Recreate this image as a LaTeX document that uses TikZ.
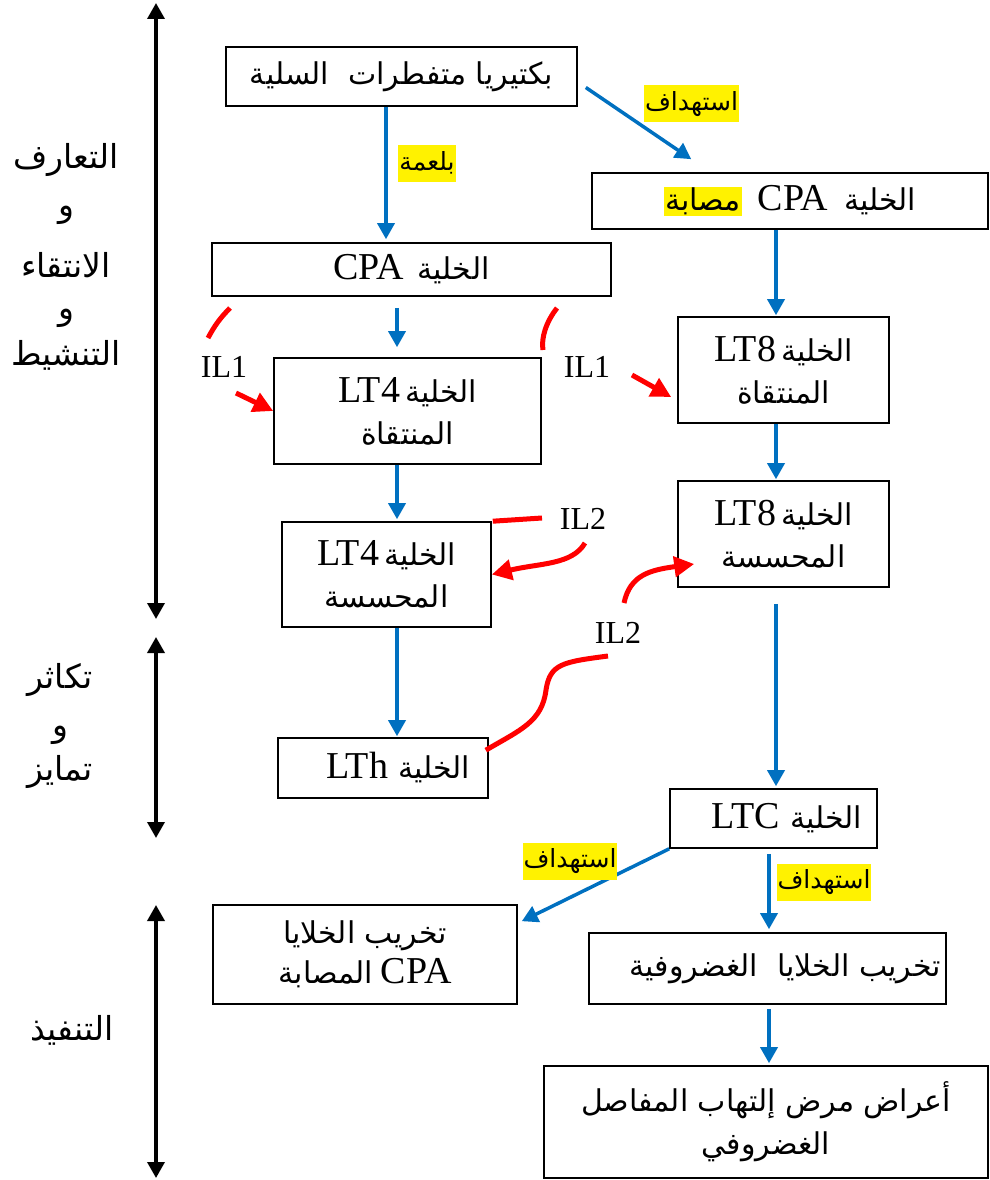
\documentclass[tikz,border=0pt]{standalone}
\usepackage{fontspec}
\setmainfont{Liberation Serif}
\newfontfamily\arfont[Script=Arabic]{DejaVu Sans}
\TeXXeTstate=1
\usetikzlibrary{arrows.meta,calc}
\definecolor{wblue}{RGB}{0,112,192}
\newcommand\AR[1]{{\arfont\fontsize{30}{42}\selectfont\beginR #1\endR}}
\newcommand\HL[1]{{\setlength{\fboxsep}{1pt}\colorbox{yellow}{\AR{#1}}}}
\begin{document}
\begin{tikzpicture}[x=1pt,y=-1pt,
  box/.style={draw=black, line width=1.6pt, inner sep=0pt, align=center,
    font=\fontsize{38}{42}\selectfont},
  barrow/.style={wblue, line width=3.5pt, -{Triangle[length=16pt,width=17pt]}},
  darrow/.style={black, line width=3.5pt, {Triangle[length=16pt,width=17pt]}-{Triangle[length=16pt,width=17pt]}},
  rline/.style={red, line width=5pt},
  rarrow/.style={red, line width=5pt, -{Triangle[length=20pt,width=20pt]}},
  hl/.style={fill=yellow, inner xsep=1pt, inner ysep=0pt, minimum height=37pt, font=\fontsize{25}{30}\selectfont\arfont},
  il/.style={inner sep=0pt, font=\fontsize{32}{34}\selectfont},
  side/.style={inner sep=0pt, font=\fontsize{33}{36}\selectfont\arfont}]
\useasboundingbox (0,0) rectangle (990,1180);
% boxes
\node[box, minimum width=351pt, minimum height=59pt] (bact) at (401.5,76.5)
  {\AR{بكتيريا متفطرات\ \ السلية}};
\node[box, minimum width=396pt, minimum height=56pt] (cpam) at (790,201)
  {\HL{مصابة}\hspace{16pt}CPA\hspace{16pt}\AR{الخلية}};
\node[box, minimum width=399pt, minimum height=53pt] (cpa) at (411.5,269.5)
  {CPA\hspace{14pt}\AR{الخلية}};
\node[box, minimum width=267pt, minimum height=106pt] (lt4sel) at (407.5,411)
  {LT4\hspace{5pt}\AR{الخلية}\\\AR{المنتقاة}};
\node[box, minimum width=211pt, minimum height=106pt] (lt8sel) at (783.5,370)
  {LT8\hspace{5pt}\AR{الخلية}\\\AR{المنتقاة}};
\node[box, minimum width=211pt, minimum height=106pt] (lt8sens) at (783.5,534)
  {LT8\hspace{5pt}\AR{الخلية}\\\AR{المحسسة}};
\node[box, minimum width=209pt, minimum height=105pt] (lt4sens) at (386.5,574.5)
  {LT4\hspace{5pt}\AR{الخلية}\\\AR{المحسسة}};
\node[box, minimum width=210pt, minimum height=60pt] (lth) at (383,768)
  {\hspace*{30pt}LTh\hspace{10pt}\AR{الخلية}};
\node[box, minimum width=207pt, minimum height=59pt] (ltc) at (773.5,818.5)
  {\hspace*{27pt}LTC\hspace{10pt}\AR{الخلية}};
\node[box, minimum width=304pt, minimum height=99pt, font=\fontsize{38}{40}\selectfont] (destcpa) at (365,954.5)
  {\AR{تخريب الخلايا}\\\AR{المصابة}\hspace{8pt}CPA};
\node[box, minimum width=357pt, minimum height=71pt] (destcart) at (767.5,968.5)
  {\hspace*{36pt}\AR{تخريب الخلايا\ \ الغضروفية}};
\node[box, minimum width=444pt, minimum height=112pt, font=\fontsize{38}{43}\selectfont] (symp) at (766,1122)
  {\AR{أعراض مرض إلتهاب المفاصل}\\\AR{الغضروفي}};
% blue arrows
\draw[barrow] (bact.south -| 386,0) -- ([yshift=3pt]cpa.north -| 386,0);
\node[hl] (lbl1) at (427,163) {\beginR بلعمة\endR};
\draw[barrow] ([xshift=8pt,yshift=-11pt]bact.east) -- ($(cpam.north west)+(100,-13)$);
\node[hl] (lbl2) at (691.5,104) {\beginR استهداف\endR};
\draw[barrow] (cpam.south -| 776,0) -- ([yshift=1pt]lt8sel.north -| 776,0);
\draw[barrow, shorten <=11pt, shorten >=10pt] (cpa.south -| 397,0) -- (lt4sel.north -| 397,0);
\draw[barrow] (lt4sel.south -| 397,0) -- ([yshift=2pt]lt4sens.north -| 397,0);
\draw[barrow] (lt4sens.south -| 397,0) -- ([yshift=1pt]lth.north -| 397,0);
\draw[barrow] (lt8sel.south -| 776,0) -- ([yshift=1pt]lt8sens.north -| 776,0);
\draw[barrow, shorten <=16pt] (lt8sens.south -| 776,0) -- ([yshift=2pt]ltc.north -| 776,0);
\draw[barrow] (ltc.south west) -- ($(destcpa.north east)+(4,17)$);
\node[hl] (lbl3) at (570,861) {\beginR استهداف\endR};
\draw[barrow, shorten <=5pt] (ltc.south -| 769,0) -- ([yshift=3pt]destcart.north -| 769,0);
\node[hl] (lbl4) at (824,882) {\beginR استهداف\endR};
\draw[barrow, shorten <=4pt] (destcart.south -| 769,0) -- ([yshift=2pt]symp.north -| 769,0);
% side arrows
\coordinate (s1a) at (156,3);  \coordinate (s1b) at (156,619);
\coordinate (s2a) at (156,637); \coordinate (s2b) at (156,838);
\coordinate (s3a) at (156,905); \coordinate (s3b) at (156,1178);
\draw[darrow] (s1a) -- (s1b);
\draw[darrow] (s2a) -- (s2b);
\draw[darrow] (s3a) -- (s3b);
% side labels
\node[side] (t1) at (66,160) {\beginR التعارف\endR};
\node[side] (t2) at (66,215) {\beginR و\endR};
\node[side] (t3) at (66,265) {\beginR الانتقاء\endR};
\node[side] (t4) at (66,318) {\beginR و\endR};
\node[side] (t5) at (66,355) {\beginR التنشيط\endR};
\node[side] (t6) at (60,680) {\beginR تكاثر\endR};
\node[side] (t7) at (60,735) {\beginR و\endR};
\node[side] (t8) at (60,772) {\beginR تمايز\endR};
\node[side] (t9) at (72,1030) {\beginR التنفيذ\endR};
% IL labels
\node[il] (il1l) at (224,367) {IL1};
\node[il] (il1r) at (587,367) {IL1};
\node[il] (il2t) at (583,519) {IL2};
\node[il] (il2b) at (618,633) {IL2};
% red curves
\coordinate (r1a) at (230,308); \coordinate (r1b) at (208,338);
\draw[rline] (r1a) to[bend right=8] (r1b);
\coordinate (r2a) at (236,393);
\draw[rarrow] (r2a) -- (lt4sel.west);
\coordinate (r3a) at (557,308); \coordinate (r3b) at (543,350);
\draw[rline] (r3a) .. controls (546,322) and (541,338) .. (r3b);
\coordinate (r4a) at (632,375);
\draw[rarrow] (r4a) -- ($(lt8sel.west)+(-6,27)$);
\coordinate (r5b) at (542,518);
\draw[rline] ([xshift=1pt]lt4sens.north east) -- (r5b);
\coordinate (r6a) at (585,543);
\draw[rarrow] (r6a) .. controls (572,565) and (540,563) .. (lt4sens.east);
\coordinate (r7a) at (624,603);
\draw[rarrow] (r7a) .. controls (630,575) and (650,570) .. ($(lt8sens.west)+(17,30)$);
\coordinate (r8a) at (608,656);
\coordinate (r8m) at (546,690);
\draw[rline] (r8a) .. controls (562,662) and (550,664) .. (r8m)
  .. controls (542,722) and (520,730) .. ($(lth.north east)+(-3,13)$);
\end{tikzpicture}
\end{document}
